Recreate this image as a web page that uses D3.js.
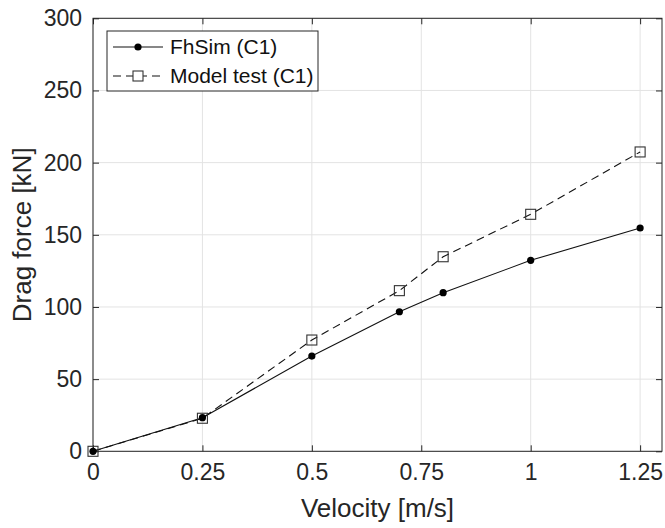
<!DOCTYPE html>
<html><head><meta charset="utf-8">
<script src="https://cdn.jsdelivr.net/npm/d3@7"></script>
<style>body{margin:0;background:#fff}svg{display:block}text{font-family:"Liberation Sans",Arial,Helvetica,sans-serif}</style>
</head><body>
<svg id="c" width="665" height="528"></svg>
<script>
const velocity = [0, 0.25, 0.5, 0.7, 0.8, 1.0, 1.25];
const fhSim = [0, 23.3, 66, 96.7, 109.9, 132.3, 154.7];
const modelTest = [0, 22.9, 77.1, 111.3, 134.8, 164.2, 207.4];
const xTicks = [0, 0.25, 0.5, 0.75, 1, 1.25];
const yTicks = [0, 50, 100, 150, 200, 250, 300];
const seriesNames = ["FhSim (C1)", "Model test (C1)"];

const svg = d3.select("#c");
const L = 93, R = 662, T = 18.3, B = 451.3;
const x = d3.scaleLinear().domain([0, 1.3]).range([L, R]);
const y = d3.scaleLinear().domain([0, 300]).range([B, T]);
const axisCol = "#262626";

// grid
const g = svg.append("g");
g.selectAll(".vg").data(xTicks).enter().append("line")
  .attr("x1", d => x(d)).attr("x2", d => x(d)).attr("y1", T).attr("y2", B)
  .attr("stroke", "#e3e3e3").attr("stroke-width", 1);
g.selectAll(".hg").data(yTicks).enter().append("line")
  .attr("x1", L).attr("x2", R).attr("y1", d => y(d)).attr("y2", d => y(d))
  .attr("stroke", "#e3e3e3").attr("stroke-width", 1);

// axes (ticks inward)
const fmtX = d => d3.format("")(d);
const xAxisB = d3.axisBottom(x).tickValues(xTicks).tickSizeInner(-6).tickSizeOuter(0).tickPadding(12).tickFormat(fmtX);
const xAxisT = d3.axisTop(x).tickValues(xTicks).tickSizeInner(-6).tickSizeOuter(0).tickFormat("");
const yAxisL = d3.axisLeft(y).tickValues(yTicks).tickSizeInner(-6).tickSizeOuter(0).tickPadding(11);
const yAxisR = d3.axisRight(y).tickValues(yTicks).tickSizeInner(-6).tickSizeOuter(0).tickFormat("");

function styleAxis(sel){
  sel.select(".domain").remove();
  sel.selectAll("line").attr("stroke", axisCol);
  sel.selectAll("text").attr("fill", axisCol).style("font-size", "23px").attr("font-family", null);
}
svg.append("g").attr("transform", `translate(0,${B})`).call(xAxisB).call(styleAxis);
svg.append("g").attr("transform", `translate(0,${T})`).call(xAxisT).call(styleAxis);
svg.append("g").attr("transform", `translate(${L},0)`).call(yAxisL).call(styleAxis);
svg.append("g").attr("transform", `translate(${R},0)`).call(yAxisR).call(styleAxis);
svg.append("rect").attr("x", L).attr("y", T).attr("width", R - L).attr("height", B - T)
  .attr("fill", "none").attr("stroke", axisCol).attr("stroke-width", 1);

// axis labels
svg.append("text").attr("x", (L + R) / 2).attr("y", 517).attr("text-anchor", "middle")
  .style("font-size", "26px").attr("fill", axisCol).text("Velocity [m/s]");
svg.append("text").attr("transform", `translate(31,${(T + B) / 2}) rotate(-90)`).attr("text-anchor", "middle")
  .style("font-size", "26px").attr("fill", axisCol).text("Drag force [kN]");

// lines
const line = d3.line().x(d => x(d[0])).y(d => y(d[1]));
const mt = velocity.map((v, i) => [v, modelTest[i]]);
const fh = velocity.map((v, i) => [v, fhSim[i]]);
svg.append("path").datum(mt).attr("d", line).attr("fill", "none").attr("stroke", "#111")
  .attr("stroke-width", 1.1).attr("stroke-dasharray", "8,5");
svg.append("path").datum(fh).attr("d", line).attr("fill", "none").attr("stroke", "#111").attr("stroke-width", 1.1);
svg.selectAll(".sq").data(mt).enter().append("rect")
  .attr("x", d => x(d[0]) - 5).attr("y", d => y(d[1]) - 5).attr("width", 10).attr("height", 10)
  .attr("fill", "none").attr("stroke", "#333").attr("stroke-width", 1.1);
svg.selectAll(".ci").data(fh).enter().append("circle")
  .attr("cx", d => x(d[0])).attr("cy", d => y(d[1])).attr("r", 3.6).attr("fill", "#000");

// legend
const lg = svg.append("g");
lg.append("rect").attr("x", 107).attr("y", 31).attr("width", 211).attr("height", 60)
  .attr("fill", "#fff").attr("stroke", axisCol).attr("stroke-width", 1);
const ly = [47, 76];
lg.append("line").attr("x1", 113).attr("x2", 163).attr("y1", ly[0]).attr("y2", ly[0]).attr("stroke", "#111").attr("stroke-width", 1.1);
lg.append("circle").attr("cx", 138).attr("cy", ly[0]).attr("r", 3.6).attr("fill", "#000");
lg.append("line").attr("x1", 113).attr("x2", 163).attr("y1", ly[1]).attr("y2", ly[1]).attr("stroke", "#111")
  .attr("stroke-width", 1.1).attr("stroke-dasharray", "8,5");
lg.append("rect").attr("x", 133).attr("y", ly[1] - 5).attr("width", 10).attr("height", 10)
  .attr("fill", "#fff").attr("stroke", "#333").attr("stroke-width", 1.1);
seriesNames.forEach((n, i) => {
  lg.append("text").attr("x", 170).attr("y", ly[i]).attr("dy", "0.35em")
    .style("font-size", "21px").attr("fill", "#111").text(n);
});
</script>
</body></html>
